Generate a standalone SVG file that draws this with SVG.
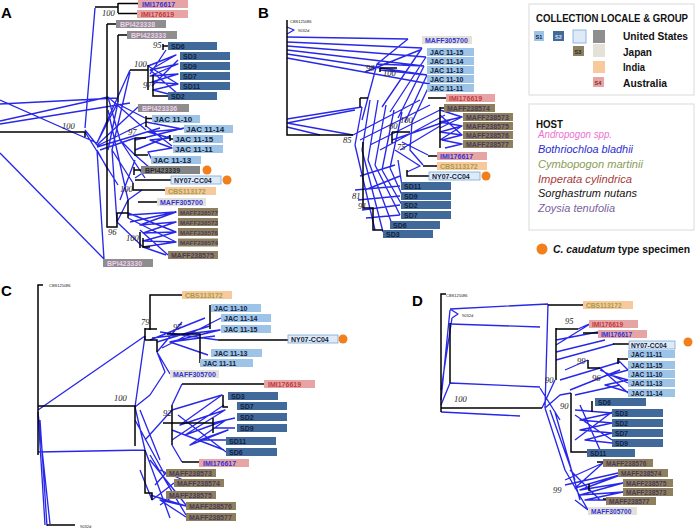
<svg xmlns="http://www.w3.org/2000/svg" width="695" height="531" viewBox="0 0 695 531">
<style>
.bl{stroke:#2828e8;stroke-width:1.35;fill:none;stroke-linejoin:round}
.bk{stroke:#000;stroke-width:1.5;fill:none}
.lb{font-family:"Liberation Sans",Arial,sans-serif;font-size:7px;font-weight:bold}
.f8{font-size:8px}.f6{font-size:6.2px}.f66{font-size:6.6px}
.bs{font-family:"Liberation Serif","Times New Roman",serif;font-style:italic;font-size:8.5px;fill:#222}
.tiny{font-family:"Liberation Sans",Arial,sans-serif;font-size:4px;fill:#222}
.pl{font-family:"Liberation Sans",Arial,sans-serif;font-size:15px;font-weight:bold}
.s1{fill:#9dc3e6}.s2{fill:#41699a}.us{fill:#8e8e8e}.ud{fill:#848484}.ul{fill:#deebf7;stroke:#7aa6d6;stroke-width:0.8}
.jp{fill:#e3e1d8}.s3{fill:#8e805e}.in{fill:#f9c99e}.s4{fill:#e6a4a4}
.tk{fill:#14223d}.tb{fill:#3434d6}.tr{fill:#c23b3b}.tp{fill:#f3cdef}.tz{fill:#4a3b5a}.to{fill:#a59c48}.td{fill:#2a2a2a}
.dot{fill:#f07f1c}
.lg{font-family:"Liberation Sans",Arial,sans-serif;font-size:10px;font-weight:bold;fill:#111}
.hi{font-family:"Liberation Sans",Arial,sans-serif;font-size:10px;font-style:italic}
.leg{fill:#fff;stroke:#dadada;stroke-width:1}
.sq{font-family:"Liberation Sans",Arial,sans-serif;font-size:5.5px;font-weight:bold}
</style>

<!-- panel letters -->
<text class="pl" x="1" y="18">A</text>
<text class="pl" x="258" y="18">B</text>
<text class="pl" x="1" y="296">C</text>
<text class="pl" x="412" y="306">D</text>

<!-- connectors -->
<g id="connectors">
<!-- Panel A -->
<path class="bl" d="M95,8 L85,128 M0,100 L97,143 M0,121 L108,97 M0,124 L130,103 M0,104 L117,98 M0,153 L104,259
M97,143 L130,70 M97,143 L118,102 M97,145 L138,107 M97,146 L146,122 M97,147 L160,128 M97,150 L104,259 M97,150 L108,170 M85,130 L97,145 M85,132 L118,185
M108,97 L120,140 L135,155 M118,102 L108,150 M108,110 L128,200 M130,72 L112,150 L117,222 M118,104 L145,118 M100,150 L135,138 M108,97 L146,130 M112,150 L133,183
M148,66 L176,55 L150,70 L178,64 L150,76 L178,74 L152,82 L178,84 L153,90 L176,96 M148,66 L178,84 M150,70 L178,94 M150,74 L166,50 M152,86 L178,60
M146,122 L182,129 L148,132 L170,138 L150,140 L172,148 L148,152 L152,160 M146,126 L172,146 M135,140 L184,128 M135,150 L170,136
M135,155 L150,168 L135,178 M120,140 L145,178 M135,160 L120,200
M117,222 L128,200 L142,190 M128,215 L176,212 L140,225 L176,222 L143,233 L176,232 L143,241 L176,242 L143,247 L166,255 M128,213 L176,232 M128,218 L176,242 M130,222 L176,212 M140,230 L168,255 M117,222 L143,247"/>
<path class="bk" d="M95,7 H118 M118,3 V13 M118,3.5 H138 M118,13.5 H137 M0,132 H85 V137 M107,24 H116 M107,24 V227 H117 V213 H128 M118,35 H127 M118,35 V102
M130,70 H148 M148,65 V90 M153,75 V96 H168 M163,44 V50 M163,46 H168 M146,116 V127 M146,118.5 H152 M135,138 V155 H148 M135,138 H146 M170,135 V141 M170,139 H173
M134,167 V175 M134,170 H141 M135,180 H171 M133,183 V190 H165 M138,202 H157 M128,200 V218 M140,232 V248 M143,238 V247 H150"/>
<!-- Panel B -->
<path class="bl" d="M287,27 L294,30 L287,34 M287,37 L408,39 M287,42 L422,48 M287,46 L426,57 M287,50 L424,66 M287,54 L427,75 M287,58 L430,84
M408,39 L377,64 L362,120 M422,48 L382,107 M426,57 L390,112 M424,66 L398,118 M427,75 L405,122 M430,84 L412,122 M377,64 L424,66 M380,70 L427,75 M365,72 L420,50
M287,119 L362,107 M287,123 L353,135 M287,123 L355,110 M287,127 L320,135
M362,107 L355,145 M370,100 L362,150 M378,100 L368,160 M386,105 L375,165 M394,110 L382,170 M402,112 L390,168
M355,145 L375,230 M362,150 L383,232 M368,160 L392,224 M375,165 L400,215 M382,170 L402,205 M390,168 L402,195 M398,160 L402,186
M353,135 L420,100 M360,140 L430,105 M370,145 L440,110 M380,150 L445,115 M392,140 L450,120 M400,150 L440,126
M440,110 L462,117 L440,122 L462,126 L440,132 L462,135 L442,140 L462,144 L445,148 M440,115 L462,135 M440,128 L462,117 M440,140 L462,126
M395,150 L420,166 L407,172 M402,142 L428,155 M412,122 L410,150 L423,165
M355,190 L400,186 M358,200 L400,196 M362,210 L400,205 M366,218 L400,215 M360,176 L395,165 M365,190 L400,176"/>
<path class="bk" d="M287,20 V135 H353 M360,98 H368 M360,98 V107 M380,68 H397 M380,68 V72 M363,142 V208 H373 V230 H383 M392,132 H410 M392,132 V143
M407,170 V176 H429 M423,166 H437 M428,156 H437 M428,98 H446 M440,107 V148 M440,108 H444"/>
<!-- Panel C -->
<path class="bl" d="M38,410 L145,336 M38,452 L145,450 M38,412 L45,525 M38,412 L50,524 M40,420 L47,526 M145,336 L135,407 M157,352 L165,372 L150,395 L135,407
M150,340 L205,318 M157,342 L210,326 M152,338 L220,330 L170,342 L215,336 M160,332 L218,340 M170,342 L208,355 M157,352 L182,322 M162,348 L221,318 M157,352 L170,374
M182,384 L172,405 M172,410 L222,395 L180,425 L225,410 L185,435 L226,420 L190,445 L228,430 L200,440 L226,440 M172,430 L224,450 M172,440 L224,405 M213,423 L235,418 M213,428 L235,428 M178,415 L226,452
M172,445 L182,462 M135,407 L145,450 M140,410 L160,460 M135,420 L165,475 M145,450 L170,518 M150,455 L186,515 M150,460 L186,505 M160,470 L195,485 M145,440 L172,410
M150,495 L186,506 L160,500 L186,517 M152,500 L174,483 M155,485 L166,473 M160,505 L180,492 M140,470 L152,500"/>
<path class="bk" d="M43,285 H38 V455 M38,406 H135 V446 M145,450 V493 H152 V500 M145,328 V340 M145,329 H157 M145,340 H157 V352 M150,330 V295 H182
M167,334 H200 V363 M210,305 V329 M218,340 H288 M182,384 H264 M172,405 V445 M163,423 H213 M213,418 V433 M223,395 V407 H228 M182,462 H199 M47,525 H75"/>
<!-- Panel D -->
<path class="bl" d="M450,309 L548,304 M450,324 L540,327 M450,383 L540,387 M441,412 L520,416 M441,400 L450,310 M441,390 L452,318 M452,318 L458,314 L450,309 M441,405 L450,383
M548,304 L545,408 M542,408 L555,380 M578,329 L589,324 M556,340 L598,332 M556,345 L590,324 M556,360 L614,344 M556,352 L605,340
M565,370 L588,360 M560,380 L620,362 M570,390 L620,370 M575,395 L620,385 M618,360 L628,370 L610,375 L628,380 L605,385 L628,392 M600,368 L628,393 M600,370 L628,383
M575,410 L612,413 L580,420 L612,423 L580,430 L612,433 L585,440 L612,443 M575,415 L612,440 M575,440 L612,412 M580,405 L600,450
M545,408 L560,395 L571,393 M545,408 L565,470 L588,510 M550,410 L575,480 M555,412 L580,500 M540,388 L560,420
M565,480 L603,463 L575,488 L623,474 L580,490 L623,483 L580,495 L623,492 L585,500 L606,500 M565,485 L618,473 M570,470 L600,500 M575,500 L588,510"/>
<path class="bk" d="M446,294 H441 V412 M450,323 V383 M441,408 H542 M548,305 H583 M556,328 V380 M556,329 H578 M583,333 H598 M613,344 H629 M588,360 V368 H600
M618,358 V364 M618,359 H628 M571,393 V452 H587 M592,401 V412 M589,484 V491 M597,462 H603 M603,499 H606"/>
</g>

<!-- bootstrap values -->
<g id="bootstrap">
<text class="bs" x="102" y="16">100</text>
<text class="bs" x="153" y="48">95</text>
<text class="bs" x="134" y="67">100</text>
<text class="bs" x="143" y="88">97</text>
<text class="bs" x="62" y="129">100</text>
<text class="bs" x="128" y="135">97</text>
<text class="bs" x="120" y="192">100</text>
<text class="bs" x="108" y="235">96</text>
<text class="bs" x="126" y="241">100</text>
<text class="bs" x="366" y="71">98</text>
<text class="bs" x="383" y="76">100</text>
<text class="bs" x="400" y="123">100</text>
<text class="bs" x="389" y="129">80</text>
<text class="bs" x="397" y="150">75</text>
<text class="bs" x="343" y="143">85</text>
<text class="bs" x="352" y="199">81</text>
<text class="bs" x="358" y="209">91</text>
<text class="bs" x="141" y="325">79</text>
<text class="bs" x="173" y="330">97</text>
<text class="bs" x="114" y="401">100</text>
<text class="bs" x="163" y="416">92</text>
<text class="bs" x="454" y="402">100</text>
<text class="bs" x="565" y="324">95</text>
<text class="bs" x="577" y="364">99</text>
<text class="bs" x="592" y="381">96</text>
<text class="bs" x="545" y="383">90</text>
<text class="bs" x="560" y="409">90</text>
<text class="bs" x="553" y="493">99</text>
</g>

<!-- outgroup labels -->
<g id="outgroups">
<text class="tiny" x="290" y="23">CBS125086</text>
<text class="tiny" x="298" y="32">9032d</text>
<text class="tiny" x="49" y="287">CBS125086</text>
<text class="tiny" x="80" y="528">9032d</text>
<text class="tiny" x="446" y="297">CBS125086</text>
<text class="tiny" x="462" y="317">9032d</text>
</g>

<!-- Panel A nodes -->
<g id="a-imi176617"><rect class="s4" x="138" y="0" width="50" height="8"/><text class="lb tb" x="142" y="6.5">IMI176617</text></g>
<g id="a-imi176619"><rect class="s4" x="137" y="10" width="51" height="8"/><text class="lb tr" x="141" y="16.5">IMI176619</text></g>
<g id="a-bpi423338"><rect class="us" x="116" y="20" width="50" height="8"/><text class="lb tp" x="120" y="26.5">BPI423338</text></g>
<g id="a-bpi423333"><rect class="us" x="127" y="31" width="50" height="8"/><text class="lb tp" x="131" y="37.5">BPI423333</text></g>
<g id="a-sd6"><rect class="s2" x="168" y="42" width="49" height="8"/><text class="lb tk" x="171" y="48.5">SD6</text></g>
<g id="a-sd3"><rect class="s2" x="180" y="52" width="50" height="8"/><text class="lb tk" x="183" y="58.5">SD3</text></g>
<g id="a-sd9"><rect class="s2" x="180" y="62" width="50" height="8"/><text class="lb tk" x="183" y="68.5">SD9</text></g>
<g id="a-sd7"><rect class="s2" x="180" y="72" width="50" height="8"/><text class="lb tk" x="183" y="78.5">SD7</text></g>
<g id="a-sd11"><rect class="s2" x="180" y="82" width="50" height="8"/><text class="lb tk" x="183" y="88.5">SD11</text></g>
<g id="a-sd2"><rect class="s2" x="168" y="92" width="49" height="8"/><text class="lb tk" x="171" y="98.5">SD2</text></g>
<g id="a-bpi423336"><rect class="us" x="138" y="104" width="51" height="8"/><text class="lb tp" x="142" y="110.5">BPI423336</text></g>
<g id="a-jac1110"><rect class="s1" x="152" y="115" width="48" height="8"/><text class="lb f8 tk" x="154" y="122">JAC 11-10</text></g>
<g id="a-jac1114"><rect class="s1" x="184" y="125" width="49" height="8"/><text class="lb f8 tk" x="186" y="132">JAC 11-14</text></g>
<g id="a-jac1115"><rect class="s1" x="173" y="135" width="50" height="8"/><text class="lb f8 tk" x="175" y="142">JAC 11-15</text></g>
<g id="a-jac1111"><rect class="s1" x="173" y="145" width="50" height="8"/><text class="lb f8 tk" x="175" y="152">JAC 11-11</text></g>
<g id="a-jac1113"><rect class="s1" x="151" y="156" width="50" height="8"/><text class="lb f8 tk" x="153" y="163">JAC 11-13</text></g>
<g id="a-bpi423339"><rect class="ud" x="141" y="166" width="59" height="8"/><text class="lb td" x="145" y="172.5">BPI423339</text><circle class="dot" cx="207" cy="170" r="4.5"/></g>
<g id="a-ny07"><rect class="ul" x="171" y="176" width="50" height="8"/><text class="lb tk" x="174" y="182.5">NY07-CC04</text><circle class="dot" cx="227" cy="180" r="4.5"/></g>
<g id="a-cbs113172"><rect class="in" x="165" y="187" width="51" height="8"/><text class="lb to" x="168" y="193.5">CBS113172</text></g>
<g id="a-maff305700"><rect class="jp" x="157" y="198" width="49" height="8"/><text class="lb tb" x="160" y="204.5">MAFF305700</text></g>
<g id="a-maff238577"><rect class="s3" x="178" y="208" width="40" height="8"/><text class="lb f6 tz" x="180" y="214.5">MAFF238577</text></g>
<g id="a-maff238573"><rect class="s3" x="178" y="218" width="40" height="8"/><text class="lb f6 tz" x="180" y="224.5">MAFF238573</text></g>
<g id="a-maff238576"><rect class="s3" x="178" y="228" width="40" height="8"/><text class="lb f6 tz" x="180" y="234.5">MAFF238576</text></g>
<g id="a-maff238574"><rect class="s3" x="178" y="238.5" width="40" height="8"/><text class="lb f6 tz" x="180" y="245">MAFF238574</text></g>
<g id="a-maff238575"><rect class="s3" x="168" y="251" width="50" height="8"/><text class="lb tz" x="171" y="257.5">MAFF238575</text></g>
<g id="a-bpi423330"><rect class="us" x="103" y="259" width="50" height="8"/><text class="lb tp" x="107" y="265.5">BPI423330</text></g>

<!-- Panel B nodes -->
<g id="b-maff305700"><rect class="jp" x="422" y="36" width="50" height="8"/><text class="lb tb" x="425" y="42.5">MAFF305700</text></g>
<g id="b-jac1115"><rect class="s1" x="427" y="48" width="47" height="8"/><text class="lb tk" x="430" y="54.5">JAC 11-15</text></g>
<g id="b-jac1114"><rect class="s1" x="427" y="57" width="47" height="8"/><text class="lb tk" x="430" y="63.5">JAC 11-14</text></g>
<g id="b-jac1113"><rect class="s1" x="427" y="66" width="47" height="8"/><text class="lb tk" x="430" y="72.5">JAC 11-13</text></g>
<g id="b-jac1110"><rect class="s1" x="427" y="75" width="47" height="8"/><text class="lb tk" x="430" y="81.5">JAC 11-10</text></g>
<g id="b-jac1111"><rect class="s1" x="427" y="84" width="47" height="8"/><text class="lb tk" x="430" y="90.5">JAC 11-11</text></g>
<g id="b-imi176619"><rect class="s4" x="446" y="94" width="49" height="8"/><text class="lb tr" x="449" y="100.5">IMI176619</text></g>
<g id="b-maff238574"><rect class="s3" x="444" y="104" width="51" height="8"/><text class="lb tz" x="447" y="110.5">MAFF238574</text></g>
<g id="b-maff238573"><rect class="s3" x="463" y="113" width="50" height="8"/><text class="lb tz" x="466" y="119.5">MAFF238573</text></g>
<g id="b-maff238575"><rect class="s3" x="463" y="122" width="50" height="8"/><text class="lb tz" x="466" y="128.5">MAFF238575</text></g>
<g id="b-maff238576"><rect class="s3" x="463" y="131" width="50" height="8"/><text class="lb tz" x="466" y="137.5">MAFF238576</text></g>
<g id="b-maff238577"><rect class="s3" x="463" y="140" width="50" height="8"/><text class="lb tz" x="466" y="146.5">MAFF238577</text></g>
<g id="b-imi176617"><rect class="s4" x="437" y="152" width="50" height="8"/><text class="lb tb" x="440" y="158.5">IMI176617</text></g>
<g id="b-cbs113172"><rect class="in" x="437" y="162" width="50" height="8"/><text class="lb to" x="440" y="168.5">CBS113172</text></g>
<g id="b-ny07"><rect class="ul" x="429" y="172" width="51" height="8"/><text class="lb tk" x="432" y="178.5">NY07-CC04</text><circle class="dot" cx="486" cy="176" r="4.5"/></g>
<g id="b-sd11"><rect class="s2" x="401" y="182" width="50" height="8"/><text class="lb tk" x="404" y="188.5">SD11</text></g>
<g id="b-sd9"><rect class="s2" x="401" y="192" width="50" height="8"/><text class="lb tk" x="404" y="198.5">SD9</text></g>
<g id="b-sd2"><rect class="s2" x="401" y="201" width="50" height="8"/><text class="lb tk" x="404" y="207.5">SD2</text></g>
<g id="b-sd7"><rect class="s2" x="401" y="211" width="50" height="8"/><text class="lb tk" x="404" y="217.5">SD7</text></g>
<g id="b-sd6"><rect class="s2" x="390" y="221" width="50" height="8"/><text class="lb tk" x="393" y="227.5">SD6</text></g>
<g id="b-sd3"><rect class="s2" x="383" y="230" width="50" height="8"/><text class="lb tk" x="386" y="236.5">SD3</text></g>

<!-- Panel C nodes -->
<g id="c-cbs113172"><rect class="in" x="182" y="291" width="50" height="8"/><text class="lb to" x="185" y="297.5">CBS113172</text></g>
<g id="c-jac1110"><rect class="s1" x="211" y="304" width="50" height="8"/><text class="lb tk" x="214" y="310.5">JAC 11-10</text></g>
<g id="c-jac1114"><rect class="s1" x="221" y="314" width="50" height="8"/><text class="lb tk" x="224" y="320.5">JAC 11-14</text></g>
<g id="c-jac1115"><rect class="s1" x="221" y="325" width="50" height="8"/><text class="lb tk" x="224" y="331.5">JAC 11-15</text></g>
<g id="c-ny07"><rect class="ul" x="288" y="335" width="50" height="8"/><text class="lb tk" x="291" y="341.5">NY07-CC04</text><circle class="dot" cx="343" cy="339" r="4.5"/></g>
<g id="c-jac1113"><rect class="s1" x="211" y="349" width="51" height="8"/><text class="lb tk" x="214" y="355.5">JAC 11-13</text></g>
<g id="c-jac1111"><rect class="s1" x="200" y="359" width="53" height="8"/><text class="lb tk" x="203" y="365.5">JAC 11-11</text></g>
<g id="c-maff305700"><rect class="jp" x="170" y="370" width="49" height="8"/><text class="lb tb" x="173" y="376.5">MAFF305700</text></g>
<g id="c-imi176619"><rect class="s4" x="264" y="380" width="51" height="8"/><text class="lb tr" x="268" y="386.5">IMI176619</text></g>
<g id="c-sd3"><rect class="s2" x="228" y="392" width="50" height="8"/><text class="lb tk" x="231" y="398.5">SD3</text></g>
<g id="c-sd7"><rect class="s2" x="237" y="402" width="50" height="8"/><text class="lb tk" x="240" y="408.5">SD7</text></g>
<g id="c-sd2"><rect class="s2" x="237" y="413" width="50" height="8"/><text class="lb tk" x="240" y="419.5">SD2</text></g>
<g id="c-sd9"><rect class="s2" x="237" y="424" width="50" height="8"/><text class="lb tk" x="240" y="430.5">SD9</text></g>
<g id="c-sd11"><rect class="s2" x="226" y="437" width="50" height="8"/><text class="lb tk" x="229" y="443.5">SD11</text></g>
<g id="c-sd6"><rect class="s2" x="226" y="448" width="51" height="8"/><text class="lb tk" x="229" y="454.5">SD6</text></g>
<g id="c-imi176617"><rect class="s4" x="199" y="459" width="50" height="8"/><text class="lb tb" x="203" y="465.5">IMI176617</text></g>
<g id="c-maff238573"><rect class="s3" x="166" y="469" width="50" height="8"/><text class="lb tz" x="169" y="475.5">MAFF238573</text></g>
<g id="c-maff238574"><rect class="s3" x="174" y="479" width="50" height="8"/><text class="lb tz" x="177" y="485.5">MAFF238574</text></g>
<g id="c-maff238575"><rect class="s3" x="166" y="491" width="50" height="8"/><text class="lb tz" x="169" y="497.5">MAFF238575</text></g>
<g id="c-maff238576"><rect class="s3" x="186" y="502" width="50" height="8"/><text class="lb tz" x="189" y="508.5">MAFF238576</text></g>
<g id="c-maff238577"><rect class="s3" x="186" y="513" width="50" height="8"/><text class="lb tz" x="189" y="519.5">MAFF238577</text></g>

<!-- Panel D nodes -->
<g id="d-cbs113172"><rect class="in" x="583" y="301" width="50" height="8"/><text class="lb f66 to" x="586" y="307.5">CBS113172</text></g>
<g id="d-imi176619"><rect class="s4" x="589" y="320" width="49" height="8"/><text class="lb f66 tr" x="592" y="326.5">IMI176619</text></g>
<g id="d-imi176617"><rect class="s4" x="598" y="330" width="49" height="8"/><text class="lb f66 tb" x="601" y="336.5">IMI176617</text></g>
<g id="d-ny07"><rect class="ul" x="629" y="341" width="46" height="8"/><text class="lb f66 tk" x="631" y="347.5">NY07-CC04</text><circle class="dot" cx="688" cy="342" r="4.5"/></g>
<g id="d-jac1111"><rect class="s1" x="628" y="350" width="47" height="8"/><text class="lb f66 tk" x="631" y="356.5">JAC 11-11</text></g>
<g id="d-jac1115"><rect class="s1" x="628" y="361" width="47" height="8"/><text class="lb f66 tk" x="631" y="367.5">JAC 11-15</text></g>
<g id="d-jac1110"><rect class="s1" x="628" y="370" width="47" height="8"/><text class="lb f66 tk" x="631" y="376.5">JAC 11-10</text></g>
<g id="d-jac1113"><rect class="s1" x="628" y="379" width="47" height="8"/><text class="lb f66 tk" x="631" y="385.5">JAC 11-13</text></g>
<g id="d-jac1114"><rect class="s1" x="628" y="389" width="47" height="8"/><text class="lb f66 tk" x="631" y="395.5">JAC 11-14</text></g>
<g id="d-sd6"><rect class="s2" x="595" y="398" width="51" height="8"/><text class="lb f66 tk" x="598" y="404.5">SD6</text></g>
<g id="d-sd3"><rect class="s2" x="612" y="409" width="51" height="8"/><text class="lb f66 tk" x="615" y="415.5">SD3</text></g>
<g id="d-sd2"><rect class="s2" x="612" y="419" width="51" height="8"/><text class="lb f66 tk" x="615" y="425.5">SD2</text></g>
<g id="d-sd7"><rect class="s2" x="612" y="429" width="51" height="8"/><text class="lb f66 tk" x="615" y="435.5">SD7</text></g>
<g id="d-sd9"><rect class="s2" x="612" y="439" width="51" height="8"/><text class="lb f66 tk" x="615" y="445.5">SD9</text></g>
<g id="d-sd11"><rect class="s2" x="587" y="449" width="48" height="8"/><text class="lb f66 tk" x="590" y="455.5">SD11</text></g>
<g id="d-maff238576"><rect class="s3" x="603" y="459" width="50" height="8"/><text class="lb f66 tz" x="606" y="465.5">MAFF238576</text></g>
<g id="d-maff238574"><rect class="s3" x="618" y="469" width="50" height="8"/><text class="lb f66 tz" x="621" y="475.5">MAFF238574</text></g>
<g id="d-maff238575"><rect class="s3" x="623" y="479" width="50" height="8"/><text class="lb f66 tz" x="626" y="485.5">MAFF238575</text></g>
<g id="d-maff238573"><rect class="s3" x="623" y="488" width="50" height="8"/><text class="lb f66 tz" x="626" y="494.5">MAFF238573</text></g>
<g id="d-maff238577"><rect class="s3" x="606" y="497" width="50" height="8"/><text class="lb f66 tz" x="609" y="503.5">MAFF238577</text></g>
<g id="d-maff305700"><rect class="jp" x="588" y="507" width="49" height="8"/><text class="lb f66 tb" x="591" y="513.5">MAFF305700</text></g>

<!-- Legend: collection locale -->
<g id="legend-locale">
<rect class="leg" x="529" y="4" width="165" height="91"/>
<text class="lg" x="536" y="22" textLength="152" lengthAdjust="spacingAndGlyphs">COLLECTION LOCALE &amp; GROUP</text>
<rect class="s1" x="534" y="31" width="10" height="10"/><text class="sq" x="535.5" y="38.5" fill="#14223d">S1</text>
<rect class="s2" x="553" y="31" width="11" height="10"/><text class="sq" x="555" y="38.5" fill="#d8e4f2">S2</text>
<rect class="ul" x="573" y="30" width="13" height="13"/>
<rect class="us" x="593" y="30" width="12" height="13"/>
<text class="lg" x="623" y="40" textLength="65" lengthAdjust="spacingAndGlyphs">United States</text>
<rect class="s3" x="573" y="46" width="11" height="10"/><text class="sq" x="574.5" y="53.5" fill="#2a2a2a">S3</text>
<rect class="jp" x="593" y="44" width="12" height="13"/>
<text class="lg" x="623" y="56" textLength="29" lengthAdjust="spacingAndGlyphs">Japan</text>
<rect class="in" x="593" y="61" width="12" height="12"/>
<text class="lg" x="623" y="71" textLength="22" lengthAdjust="spacingAndGlyphs">India</text>
<rect class="s4" x="593" y="77" width="11" height="10"/><text class="sq" x="594.5" y="84.5" fill="#7a2a2a">S4</text>
<text class="lg" x="623" y="87" textLength="44" lengthAdjust="spacingAndGlyphs">Australia</text>
</g>

<!-- Legend: host -->
<g id="legend-host">
<rect class="leg" x="529" y="104" width="165" height="126"/>
<text class="lg" x="536" y="128" textLength="27" lengthAdjust="spacingAndGlyphs">HOST</text>
<text class="hi" x="538" y="138" fill="#ee6fcf" textLength="74" lengthAdjust="spacingAndGlyphs">Andropogon spp.</text>
<text class="hi" x="538" y="153" fill="#2b2bd2" textLength="95" lengthAdjust="spacingAndGlyphs">Bothriochloa bladhii</text>
<text class="hi" x="538" y="168" fill="#8b9c55" textLength="105" lengthAdjust="spacingAndGlyphs">Cymbopogon martinii</text>
<text class="hi" x="538" y="183" fill="#a83a3a" textLength="94" lengthAdjust="spacingAndGlyphs">Imperata cylindrica</text>
<text class="hi" x="538" y="197" fill="#111" textLength="99" lengthAdjust="spacingAndGlyphs">Sorghastrum nutans</text>
<text class="hi" x="538" y="212" fill="#7a5fa0" textLength="77" lengthAdjust="spacingAndGlyphs">Zoysia tenufolia</text>
</g>

<!-- Legend: type specimen -->
<g id="legend-type">
<circle class="dot" cx="542" cy="249" r="5.5"/>
<text class="lg" x="553" y="253" textLength="137" lengthAdjust="spacingAndGlyphs"><tspan font-style="italic">C. caudatum</tspan> type specimen</text>
</g>
</svg>
